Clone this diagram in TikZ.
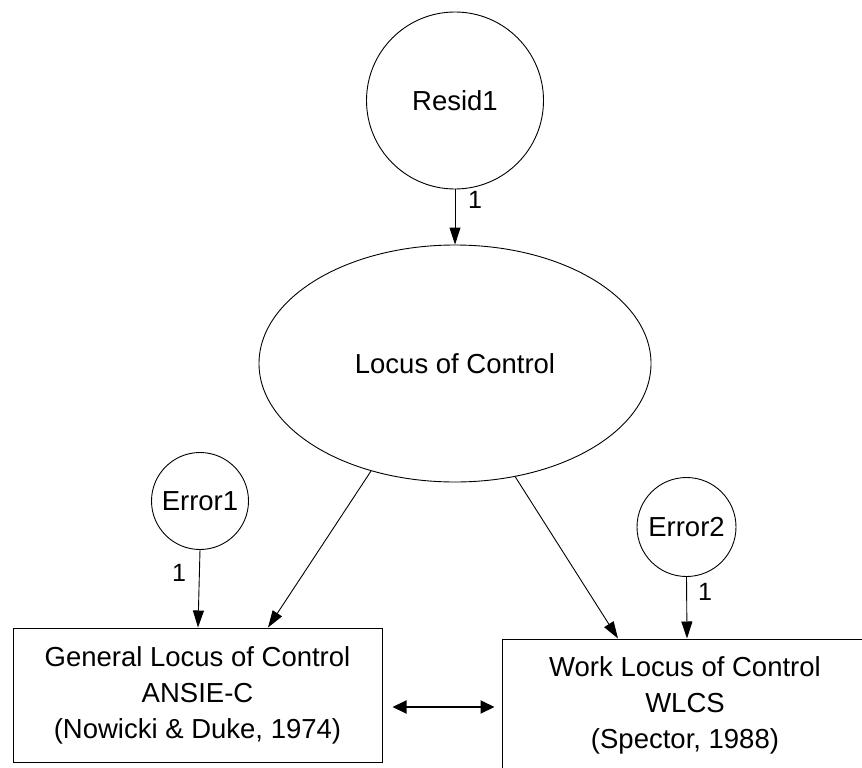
\documentclass[tikz,border=0pt]{standalone}
\usepackage{fontspec}
\setmainfont{Liberation Sans}
\usetikzlibrary{shapes.geometric,arrows.meta}
\begin{document}
\begin{tikzpicture}[x=1pt,y=-1pt,
  every node/.style={font=\fontsize{27.5}{36}\selectfont},
  latent/.style={draw,line width=0.9pt,circle,inner sep=0pt},
  factor/.style={draw,line width=0.9pt,ellipse,inner sep=0pt,minimum width=392pt,minimum height=237pt},
  obs/.style={draw,line width=1pt,rectangle,inner sep=0pt,align=center},
  lbl/.style={font=\fontsize{25}{30}\selectfont,inner sep=0pt},
  arr/.style={line width=0.9pt,-{Triangle[length=17pt,width=11pt]}},
  dbl/.style={line width=2pt,{Triangle[length=14pt,width=13pt]}-{Triangle[length=14pt,width=13pt]}}]
\useasboundingbox (0,0) rectangle (862,768);
\clip (0,0) rectangle (862,768);
\fill[white] (0,0) rectangle (862,768);
\node[latent,minimum size=177pt] (resid) at (455,100.5) {Resid1};
\node[factor] (loc) at (455,363.5) {Locus of Control};
\node[latent,minimum size=97pt] (err1) at (200,501) {Error1};
\node[latent,minimum size=99pt] (err2) at (686.5,527) {Error2};
\node[obs,minimum width=369pt,minimum height=134pt] (box1) at (197.5,695) {General Locus of Control\\ANSIE-C\\(Nowicki \& Duke, 1974)};
\node[obs,minimum width=366pt,minimum height=132pt] (box2) at (685,705) {Work Locus of Control\\WLCS\\(Spector, 1988)};
\draw[arr] (resid) -- (loc);
\draw[arr] (loc.232) -- ([xshift=70.5pt]box1.north);
\draw[arr] (loc.298) -- ([xshift=-67pt]box2.north);
\draw[arr] (err1.south) -- ([xshift=0.5pt]box1.north);
\draw[arr] (err2.south) -- ([xshift=2pt]box2.north);
\draw[dbl] ([xshift=10pt,yshift=-12pt]box1.east) -- ([xshift=-7pt,yshift=-2pt]box2.west);
\node[lbl] (l1) at (475,200) {1};
\node[lbl] (l2) at (179,573) {1};
\node[lbl] (l3) at (705,592) {1};
\end{tikzpicture}
\end{document}
